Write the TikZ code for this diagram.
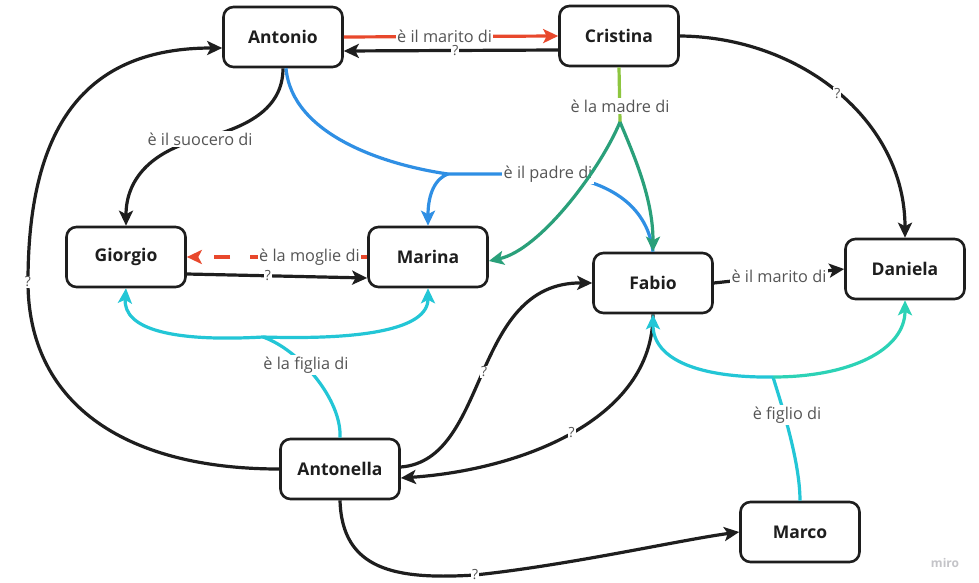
\documentclass[tikz,border=0pt]{standalone}
\usepackage{fontspec}
\setmainfont{Open Sans}
\usetikzlibrary{arrows.meta,calc}
\definecolor{ink}{HTML}{1E1E1E}
\definecolor{txtgray}{HTML}{555555}
\definecolor{redl}{HTML}{E8482C}
\definecolor{bluel}{HTML}{2F8FE4}
\definecolor{lgreen}{HTML}{8DC63F}
\definecolor{greenl}{HTML}{2AA07A}
\definecolor{cyanl}{HTML}{23C6D6}
\definecolor{tealc}{HTML}{2CD2B6}
\definecolor{mirog}{HTML}{C4C4C8}
\begin{document}
\begin{tikzpicture}[x=1pt,y=-1pt,
  person/.style={draw=ink, line width=2.6pt, rounded corners=10pt, minimum width=119pt, minimum height=60pt, fill=white, text=ink, font=\fontsize{17.5}{20}\selectfont\bfseries},
  lbl/.style={fill=white, text=txtgray, font=\fontsize{16.3}{18}\selectfont, inner sep=1.5pt},
  qm/.style={fill=white, text=txtgray, font=\fontsize{14}{16}\selectfont, inner sep=1pt},
  conn/.style={line width=3.2pt, ink},
  arr/.style={-{Stealth[length=15pt,width=14pt,inset=3.5pt]}}
]
\useasboundingbox[fill=white] (0,0) rectangle (979,583);

% people
\node[person] (antonio) at (283,37) {Antonio};
\node[person] (cristina) at (619,36) {Cristina};
\node[person] (giorgio) at (126,257) {Giorgio};
\node[person] (marina) at (428,257) {Marina};
\node[person] (fabio) at (653,283) {Fabio};
\node[person] (daniela) at (905,269) {Daniela};
\node[person] (antonella) at (340,469) {Antonella};
\node[person] (marco) at (800,532) {Marco};

% Antonio <-> Cristina
\draw[conn, redl, arr] (antonio.east) -- node[lbl, pos=0.47] (lmar1) {è il marito di} (cristina.west);
\draw[conn, arr] ([yshift=-14pt]cristina.west) -- node[qm, pos=0.48] (q1) {?} ([yshift=-14pt]antonio.east);

% Cristina -> Daniela
\draw[conn, arr] (cristina.east) .. controls (800,37) and (905,120) .. node[qm, pos=0.5] (q2) {?} (daniela.north);

% Antonio -> Giorgio
\draw[conn, arr] (antonio.south) .. controls (283,110) and (245,128) .. (200,139) node[lbl] (lsuo) {è il suocero di}
  .. controls (150,152) and (126,180) .. (giorgio.north);

% Antonio father of Marina and Fabio (blue)
\draw[conn, bluel] ([xshift=3pt]antonio.south) .. controls (292,135) and (385,165) .. (448,174) coordinate (pj);
\draw[conn, bluel, arr] (pj) .. controls (432,180) and (428,200) .. (marina.north);
\draw[conn, bluel] (pj) -- (548,174) node[lbl] (lpad) {è il padre di} .. controls (615,180) and (648,210) .. (fabio.north);

% Cristina mother of Marina and Fabio (green)
\draw[conn, lgreen] (cristina.south) -- (620,122) coordinate (mj);
\node[lbl] (lmad) at (620,106) {è la madre di};
\draw[conn, greenl, arr] (mj) .. controls (600,170) and (540,250) .. ([yshift=-4pt]marina.east);
\draw[conn, greenl, arr] (mj) .. controls (636,160) and (653,200) .. (fabio.north);

% Marina -> Giorgio (dashed red)
\draw[conn, redl, arr, dash pattern=on 16pt off 20pt, dash phase=7pt] (marina.west) -- node[lbl, pos=0.32] (lmog) {è la moglie di} (giorgio.east);
% Giorgio -> Marina
\draw[conn, arr] ([yshift=-17pt]giorgio.east) -- node[qm, pos=0.45] (q3) {?} ([yshift=-21pt]marina.west);

% Antonella daughter of Giorgio and Marina (cyan)
\draw[conn, cyanl] (antonella.north) .. controls (342,400) and (300,350) .. (263,337) coordinate (fj);
\node[lbl] (lfig) at (306,365) {è la figlia di};
\draw[conn, cyanl, arr] (fj) .. controls (175,342) and (123,330) .. (giorgio.south);
\draw[conn, cyanl, arr] (fj) .. controls (360,340) and (428,330) .. (marina.south);

% Antonella -> Antonio
\draw[conn, arr] (antonella.west) .. controls (120,469) and (28,400) .. (28,282) node[qm] (q4) {?}
  .. controls (28,120) and (90,48) .. ([yshift=-11pt]antonio.west);

% Antonella -> Fabio
\draw[conn, arr] ([yshift=2pt]antonella.east) .. controls (490,460) and (470,282) .. node[qm, pos=0.5] (q5) {?} (fabio.west);
% Fabio -> Antonella
\draw[conn, arr] (fabio.south) .. controls (653,420) and (520,470) .. node[qm, pos=0.5] (q6) {?} ([yshift=-9pt]antonella.east);

% Fabio -> Daniela
\draw[conn, arr] (fabio.east) -- node[lbl, pos=0.5] (lmar2) {è il marito di} (daniela.west);

% Marco son of Fabio and Daniela
\draw[conn, cyanl] (marco.north) .. controls (800,460) and (780,400) .. (773,377) coordinate (sj);
\node[lbl] (lfiglio) at (787,415) {è figlio di};
\draw[conn, cyanl, arr] (sj) .. controls (700,378) and (653,360) .. (fabio.south);
\draw[conn, tealc, arr] (sj) .. controls (850,377) and (905,350) .. (daniela.south);

% Antonella -> Marco
\draw[conn, arr] (antonella.south) .. controls (342,570) and (395,580) .. (475,575) node[qm] (q7) {?}
  .. controls (570,565) and (680,540) .. (marco.west);

\node[text=mirog, font=\fontsize{12}{14}\selectfont\bfseries] (miro) at (945,563) {miro};
\end{tikzpicture}
\end{document}
